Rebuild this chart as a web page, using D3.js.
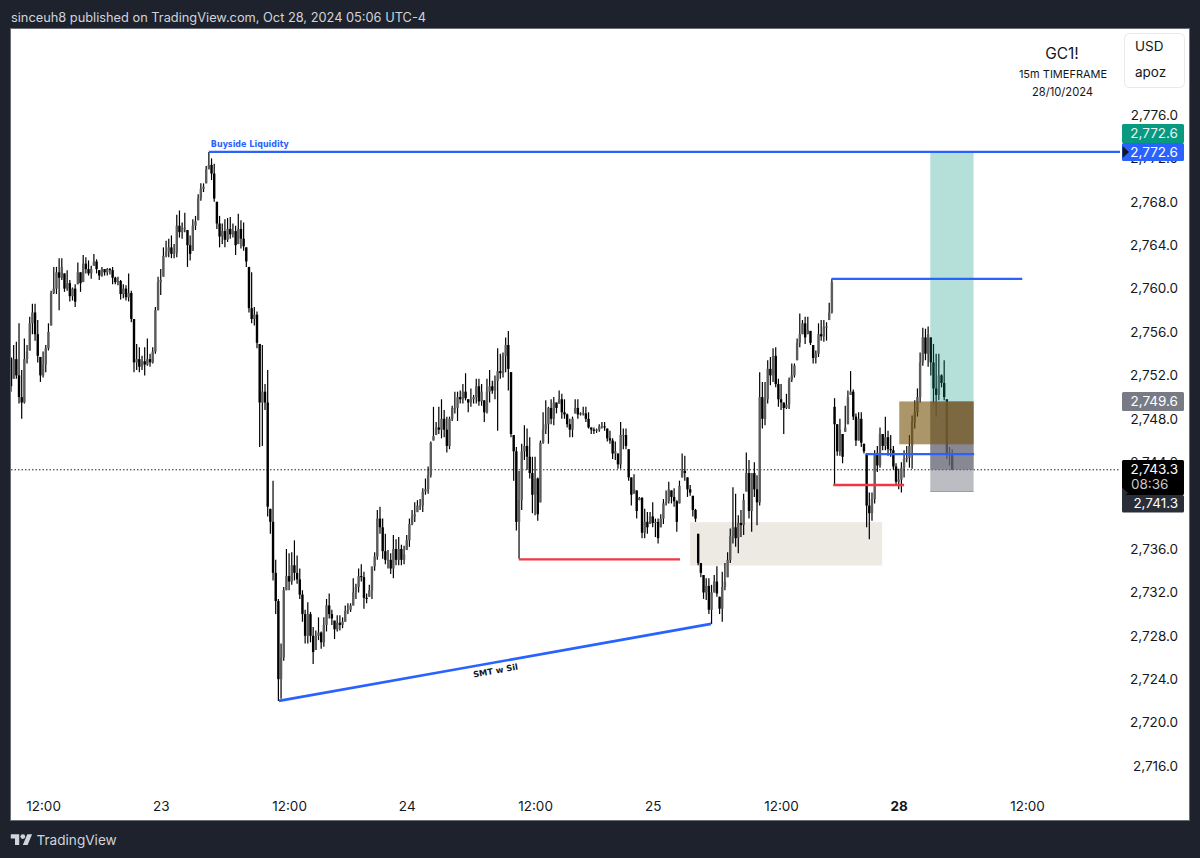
<!DOCTYPE html>
<html>
<head>
<meta charset="utf-8">
<script src="https://cdn.jsdelivr.net/npm/d3@7/dist/d3.min.js"></script>
<style>
  html, body { margin: 0; padding: 0; background: #1e222d; }
  svg { display: block; font-family: Inter, "Noto Sans", sans-serif; }
</style>
</head>
<body>
<svg id="chart" width="1200" height="858"></svg>
<script>
// GC1! 15-minute session data, one entry per bar, oldest first.
const highs = [
  2753.7,2754.8,2755.1,2756.8,2752.5,2755.4,2754.8,2757.4,2758.6,2758.6,
  2757.1,2753.7,2754.2,2754.8,2756.8,2759.8,2762.0,2762.0,2762.8,2762.8,
  2761.4,2761.7,2760.8,2760.1,2760.4,2762.4,2761.5,2763.1,2762.9,2762.6,
  2762.1,2763.2,2762.7,2761.7,2762.0,2761.8,2761.9,2761.9,2762.0,2761.1,
  2761.1,2760.8,2760.4,2760.3,2761.4,2759.8,2757.2,2754.9,2754.6,2753.8,
  2754.6,2755.4,2754.0,2754.6,2758.3,2761.1,2761.8,2763.8,2764.4,2764.6,
  2764.9,2764.1,2766.8,2767.2,2766.1,2767.0,2765.4,2764.9,2766.4,2766.7,
  2768.7,2769.7,2769.7,2771.3,2772.6,2772.0,2771.5,2768.0,2766.7,2766.0,
  2766.4,2766.5,2766.6,2766.0,2765.8,2766.9,2766.3,2766.1,2763.8,2762.0,
  2761.5,2758.3,2757.9,2754.9,2754.8,2751.2,2752.5,2739.7,2742.3,2735.0,
  2731.4,2727.3,2732.5,2736.0,2735.6,2735.7,2736.8,2735.4,2734.2,2732.2,
  2730.4,2731.1,2730.2,2728.8,2728.5,2729.7,2728.4,2729.7,2731.4,2731.9,
  2730.4,2729.4,2729.9,2729.9,2729.7,2730.8,2731.0,2731.0,2733.3,2732.8,
  2734.2,2734.6,2733.9,2731.9,2732.7,2733.4,2735.7,2739.6,2739.9,2738.8,
  2737.4,2735.9,2735.6,2737.3,2736.9,2737.1,2736.4,2736.3,2737.3,2738.8,
  2739.6,2740.3,2740.5,2740.6,2741.6,2742.5,2743.6,2745.9,2749.1,2747.7,
  2749.1,2749.8,2748.8,2748.2,2748.2,2749.2,2750.5,2750.5,2750.6,2751.2,
  2752.2,2749.8,2750.8,2750.2,2751.7,2751.7,2751.2,2749.7,2751.7,2752.5,
  2751.5,2752.0,2754.5,2754.0,2754.1,2755.5,2756.1,2752.3,2746.5,2745.4,
  2743.2,2745.7,2747.4,2747.1,2746.3,2744.5,2744.5,2742.6,2746.0,2748.6,
  2749.7,2749.1,2749.8,2750.0,2749.5,2750.6,2750.3,2749.8,2748.5,2748.0,
  2748.2,2749.8,2749.8,2748.6,2749.1,2749.1,2748.6,2747.2,2747.2,2747.1,
  2747.5,2747.7,2747.7,2747.1,2746.9,2746.2,2745.9,2744.8,2747.7,2747.1,
  2747.1,2745.2,2742.6,2742.9,2741.4,2740.8,2740.8,2739.7,2739.4,2739.4,
  2740.3,2738.8,2738.8,2739.2,2740.6,2741.4,2742.2,2741.4,2741.6,2740.5,
  2742.3,2744.8,2744.6,2742.6,2741.9,2740.9,2739.7,2737.4,2734.7,2733.6,
  2733.3,2733.3,2732.7,2733.6,2734.4,2731.6,2733.9,2734.7,2735.7,2737.9,
  2741.7,2741.1,2739.1,2739.6,2741.1,2744.9,2744.2,2741.7,2744.0,2742.8,
  2752.3,2751.4,2751.4,2753.4,2753.7,2754.5,2754.6,2751.7,2751.2,2749.5,
  2750.3,2751.8,2753.1,2753.1,2755.4,2757.7,2757.1,2757.4,2757.4,2756.1,
  2754.8,2754.3,2756.8,2757.1,2757.1,2756.9,2758.7,2760.9,2749.9,2747.5,
  2748.0,2746.6,2749.2,2750.6,2752.4,2750.7,2748.5,2748.6,2748.6,2745.7,
  2744.8,2741.2,2741.2,2745.1,2745.5,2747.2,2746.6,2748.2,2746.9,2746.5,
  2745.5,2743.9,2743.4,2744.0,2745.1,2745.5,2746.5,2748.3,2749.7,2750.8,
  2754.1,2756.4,2756.3,2756.5,2755.5,2754.9,2754.0,2754.0,2752.1,2753.4,
  2749.8,2745.4,2745.2
];

const lows = [
  2750.5,2751.7,2751.7,2749.4,2748.0,2749.4,2753.1,2754.3,2755.8,2755.2,
  2753.2,2751.4,2751.8,2752.3,2754.3,2756.6,2759.5,2759.5,2758.0,2760.8,
  2759.7,2759.8,2758.8,2758.9,2758.3,2760.4,2759.7,2760.6,2761.4,2761.2,
  2760.9,2762.1,2761.4,2760.8,2761.1,2761.2,2761.2,2761.3,2760.4,2760.4,
  2760.3,2759.0,2759.1,2758.9,2758.8,2756.9,2752.3,2752.5,2752.3,2752.5,
  2752.0,2752.9,2752.8,2753.1,2754.0,2758.0,2759.4,2761.1,2762.9,2762.9,
  2762.8,2762.8,2762.9,2764.7,2764.6,2765.2,2762.0,2762.6,2763.5,2765.4,
  2766.3,2768.1,2768.9,2769.7,2771.0,2770.0,2768.0,2765.5,2763.8,2764.1,
  2763.8,2764.3,2764.6,2764.7,2763.1,2764.1,2763.7,2763.5,2762.0,2757.8,
  2756.8,2756.6,2754.5,2745.4,2745.5,2748.8,2739.0,2737.4,2733.1,2730.0,
  2722.0,2722.2,2725.7,2732.2,2732.2,2732.7,2733.1,2732.8,2731.4,2729.3,
  2727.3,2727.3,2727.4,2725.4,2726.7,2727.6,2726.8,2727.0,2728.4,2729.6,
  2729.0,2727.7,2728.4,2728.5,2728.7,2729.3,2730.0,2730.2,2730.8,2731.4,
  2732.0,2733.0,2730.5,2731.0,2731.6,2731.4,2734.0,2735.0,2737.4,2735.1,
  2734.6,2734.2,2733.7,2733.3,2734.5,2734.5,2734.5,2734.6,2735.9,2736.2,
  2738.2,2738.5,2739.4,2739.6,2739.4,2741.0,2741.1,2742.6,2746.0,2746.5,
  2746.6,2746.2,2746.3,2744.9,2745.2,2747.8,2748.5,2747.8,2749.4,2749.4,
  2749.7,2748.6,2749.1,2749.4,2749.4,2749.2,2749.2,2747.7,2748.5,2749.5,
  2750.3,2749.8,2746.9,2751.7,2751.8,2752.3,2750.6,2746.3,2742.3,2737.7,
  2735.1,2739.6,2744.2,2743.3,2742.5,2739.3,2739.1,2738.6,2740.3,2745.7,
  2746.6,2745.7,2747.5,2747.4,2748.5,2749.4,2748.0,2748.0,2747.2,2746.3,
  2746.3,2748.5,2748.0,2748.3,2748.3,2747.7,2747.1,2746.6,2746.6,2746.7,
  2746.8,2747.1,2746.9,2745.9,2745.7,2744.3,2744.2,2743.4,2743.4,2745.2,
  2745.2,2742.3,2740.0,2741.1,2738.8,2740.5,2737.0,2737.0,2737.4,2738.3,
  2738.0,2737.1,2736.5,2738.0,2738.3,2740.0,2740.2,2740.2,2739.9,2737.6,
  2740.2,2742.6,2742.3,2740.8,2740.9,2739.0,2738.5,2734.5,2733.4,2731.4,
  2731.3,2730.0,2729.1,2732.0,2731.6,2730.0,2729.3,2732.2,2733.4,2734.7,
  2736.5,2736.2,2735.6,2737.1,2737.3,2741.3,2738.8,2737.6,2740.8,2738.2,
  2740.0,2747.1,2747.4,2749.4,2751.1,2751.4,2750.9,2749.1,2748.8,2746.6,
  2748.9,2748.9,2751.4,2751.8,2753.4,2754.6,2755.8,2754.9,2755.8,2754.8,
  2753.1,2753.1,2753.7,2755.2,2755.1,2755.2,2757.1,2757.7,2742.0,2744.6,
  2744.6,2743.9,2746.8,2747.5,2750.2,2747.9,2745.5,2746.0,2745.4,2744.8,
  2738.0,2736.9,2738.6,2740.2,2743.1,2743.5,2745.1,2745.1,2744.6,2744.5,
  2743.3,2741.9,2741.5,2741.2,2742.6,2744.0,2743.5,2743.4,2747.1,2748.2,
  2749.5,2752.9,2753.4,2752.8,2752.0,2749.4,2748.2,2749.7,2750.9,2749.7,
  2744.3,2743.7,2743.3
];

const closes = [
  2751.0,2753.5,2752.0,2750.0,2749.5,2753.5,2754.2,2756.8,2757.8,2755.8,
  2753.8,2752.0,2753.0,2754.5,2756.0,2759.6,2760.0,2761.5,2761.0,2762.0,
  2760.0,2760.5,2759.3,2760.0,2758.8,2761.5,2760.5,2762.3,2761.8,2761.4,
  2761.8,2762.5,2761.8,2761.2,2761.8,2761.5,2761.8,2761.7,2761.0,2760.6,
  2760.7,2759.5,2760.0,2759.2,2759.6,2757.2,2753.2,2753.5,2752.8,2753.3,
  2753.0,2753.5,2753.2,2754.2,2758.0,2760.6,2760.8,2763.0,2763.4,2763.8,
  2763.2,2763.3,2765.8,2765.2,2765.6,2765.6,2764.0,2763.2,2765.8,2766.2,
  2768.3,2769.2,2769.4,2771.0,2771.4,2770.6,2768.3,2766.0,2764.8,2765.3,
  2764.5,2765.5,2765.0,2765.3,2764.0,2765.5,2764.6,2763.9,2762.5,2758.2,
  2757.2,2757.6,2755.0,2749.5,2750.5,2749.5,2739.9,2738.5,2733.8,2731.2,
  2724.0,2726.0,2732.2,2733.5,2733.0,2734.5,2733.8,2733.2,2731.8,2730.0,
  2728.0,2730.0,2728.0,2726.5,2728.0,2728.3,2727.4,2729.0,2730.8,2730.0,
  2729.6,2728.6,2729.2,2729.0,2729.3,2730.3,2730.4,2730.8,2732.0,2732.5,
  2733.5,2733.4,2731.5,2731.4,2732.2,2734.4,2735.3,2738.8,2738.0,2735.8,
  2735.0,2735.0,2734.2,2736.0,2735.0,2736.0,2735.0,2735.5,2736.8,2738.3,
  2739.0,2739.2,2740.0,2740.0,2741.3,2741.5,2742.8,2745.8,2746.4,2747.2,
  2747.0,2748.0,2747.0,2745.5,2748.0,2749.0,2749.0,2750.0,2749.8,2750.5,
  2749.9,2749.5,2749.8,2750.0,2751.0,2749.6,2750.5,2748.6,2750.5,2751.0,
  2750.6,2751.5,2752.4,2752.2,2753.8,2754.8,2752.6,2746.6,2745.0,2738.5,
  2740.5,2745.0,2745.5,2744.5,2743.0,2741.0,2742.5,2739.2,2745.8,2747.0,
  2747.5,2749.0,2748.0,2749.5,2749.0,2749.8,2748.6,2748.4,2747.5,2747.0,
  2748.0,2749.0,2748.4,2748.5,2748.5,2748.0,2747.2,2747.0,2746.9,2747.0,
  2747.3,2747.3,2747.2,2746.2,2746.0,2744.8,2745.0,2743.8,2746.5,2746.5,
  2745.5,2742.6,2741.0,2741.5,2739.5,2740.7,2737.5,2738.5,2738.0,2739.0,
  2738.4,2738.5,2737.0,2738.8,2740.2,2740.4,2741.5,2740.8,2740.4,2738.5,
  2741.8,2743.2,2743.0,2741.5,2741.2,2739.6,2738.8,2734.7,2733.8,2732.0,
  2732.6,2730.4,2732.0,2733.0,2731.9,2730.5,2732.5,2733.0,2735.0,2737.2,
  2738.0,2737.0,2738.4,2738.2,2740.5,2743.0,2739.5,2743.0,2741.5,2740.3,
  2750.0,2748.0,2749.8,2752.6,2752.0,2753.8,2751.2,2749.8,2749.5,2749.0,
  2749.3,2751.6,2752.0,2752.9,2755.0,2755.8,2756.8,2755.5,2756.2,2755.0,
  2753.6,2754.0,2755.8,2755.6,2756.5,2756.5,2757.8,2760.6,2747.5,2745.0,
  2747.0,2744.5,2747.2,2750.0,2750.5,2748.2,2746.0,2748.0,2745.8,2745.0,
  2740.0,2739.3,2740.6,2744.8,2743.7,2746.6,2745.5,2746.3,2745.2,2745.1,
  2743.6,2742.2,2742.4,2743.5,2744.3,2744.4,2745.5,2747.7,2748.6,2750.0,
  2753.2,2755.5,2754.0,2755.8,2753.2,2750.8,2750.2,2752.0,2751.3,2750.0,
  2744.7,2744.8,2743.3
];

// Axis labelling: bar number of each time label, and the printed price levels.
const timeTickBars = [12, 56, 104, 148, 196, 240, 288, 332, 380];
const timeTickLabels = ["12:00", "23", "12:00", "24", "12:00", "25", "12:00", "28", "12:00"];
const priceTicks = [2776, 2772, 2768, 2764, 2760, 2756, 2752, 2748, 2744, 2736, 2732, 2728, 2724, 2720, 2716];

// Drawing-tool levels, each as [first bar, last bar, price].
const blueLevels = [[74.0, 415.5, 2772.6], [306.9, 378.2, 2760.9], [319.8, 360.2, 2744.75]];
const redLevels = [[189.9, 250.2, 2735.05], [307.5, 334, 2741.9]];
const smtLine = [[100.2, 2722.0], [261.8, 2729.1]];
const demandZone = [254, 325.8, 2738.47, 2734.48];
const fvgZone = [332.2, 360, 2749.6, 2745.65];
const positionBars = [343.8, 360];
const entryPrice = 2749.6, targetPrice = 2772.6, stopPrice = 2741.3, lastPrice = 2743.3;

const paneLeft = 11, paneTop = 29, paneRight = 1189, paneBottom = 820, axisX = 1120;

const x = d3.scaleLinear().domain([0, 352]).range([11, 952.2]);
const y = d3.scaleLinear().domain([2776, 2716]).range([115, 766]);

const svg = d3.select("#chart");
const fmt = d3.format(",.1f");

const defs = svg.append("defs");
defs.append("clipPath").attr("id", "plot")
  .append("rect").attr("x", paneLeft).attr("y", paneTop)
  .attr("width", axisX - paneLeft).attr("height", paneBottom - paneTop);

// Page and chart pane.
svg.append("rect").attr("width", 1200).attr("height", 858).attr("fill", "#1e222d");
svg.append("rect").attr("x", paneLeft - 0.5).attr("y", paneTop - 0.5)
  .attr("width", paneRight - paneLeft + 1).attr("height", paneBottom - paneTop + 1)
  .attr("fill", "#fff").attr("stroke", "#6a6d78");

svg.append("text").attr("x", 11).attr("y", 21.5)
  .attr("fill", "#d1d4dc").attr("font-size", 12.8)
  .text("sinceuh8 published on TradingView.com, Oct 28, 2024 05:06 UTC-4");

const plot = svg.append("g").attr("clip-path", "url(#plot)");

// Consolidation zone sits behind the candles.
plot.append("rect")
  .attr("x", x(demandZone[0])).attr("width", x(demandZone[1]) - x(demandZone[0]))
  .attr("y", y(demandZone[2])).attr("height", y(demandZone[3]) - y(demandZone[2]))
  .attr("fill", "#ede9e3");

// Last-price dotted guide.
plot.append("line")
  .attr("x1", paneLeft).attr("x2", axisX)
  .attr("y1", y(lastPrice)).attr("y2", y(lastPrice))
  .attr("stroke", "#222").attr("stroke-width", 1).attr("stroke-dasharray", "1.5 2");

// Candles: opens continue from the previous close, except at the weekend gap.
const bars = highs.map((h, i) => {
  const l = lows[i], c = closes[i];
  const prev = i === 308 ? 2749.1 : (i ? closes[i - 1] : 2753.6);
  const o = Math.min(h, Math.max(l, prev));
  return { i, h, l, o, c };
});

const candle = plot.append("g").selectAll("g").data(bars).join("g");
candle.append("line")
  .attr("x1", d => x(d.i)).attr("x2", d => x(d.i))
  .attr("y1", d => y(d.h)).attr("y2", d => y(d.l))
  .attr("stroke", "#000").attr("stroke-width", 1.2);
candle.append("rect")
  .attr("x", d => x(d.i) - 1.2).attr("width", 2.4)
  .attr("y", d => y(Math.max(d.o, d.c)))
  .attr("height", d => Math.max(1, Math.abs(y(d.o) - y(d.c))))
  .attr("fill", d => d.c >= d.o ? "#5c5c5c" : "#000");

// Long position: target, stop and the open-loss band.
const posX = x(positionBars[0]), posW = x(positionBars[1]) - posX;
plot.append("rect").attr("x", posX).attr("width", posW)
  .attr("y", y(targetPrice)).attr("height", y(entryPrice) - y(targetPrice))
  .attr("fill", "rgba(8,153,129,0.3)");
plot.append("rect").attr("x", posX).attr("width", posW)
  .attr("y", y(entryPrice)).attr("height", y(stopPrice) - y(entryPrice))
  .attr("fill", "rgba(120,123,134,0.5)");
plot.append("rect").attr("x", posX).attr("width", posW)
  .attr("y", y(entryPrice)).attr("height", y(lastPrice) - y(entryPrice))
  .attr("fill", "rgba(100,100,115,0.6)");
plot.append("line").attr("x1", posX).attr("x2", posX + posW)
  .attr("y1", y(stopPrice)).attr("y2", y(stopPrice))
  .attr("stroke", "#9a9ba3").attr("stroke-width", 1);

// Imbalance box laid over the position.
plot.append("rect")
  .attr("x", x(fvgZone[0])).attr("width", x(fvgZone[1]) - x(fvgZone[0]))
  .attr("y", y(fvgZone[2])).attr("height", y(fvgZone[3]) - y(fvgZone[2]))
  .attr("fill", "rgba(120,85,15,0.62)");

// Horizontal levels and the divergence line.
plot.selectAll("line.blue").data(blueLevels).join("line").attr("class", "blue")
  .attr("x1", d => x(d[0])).attr("x2", d => x(d[1]))
  .attr("y1", d => y(d[2])).attr("y2", d => y(d[2]))
  .attr("stroke", "#2962ff").attr("stroke-width", 2.3);
plot.selectAll("line.red").data(redLevels).join("line").attr("class", "red")
  .attr("x1", d => x(d[0])).attr("x2", d => x(d[1]))
  .attr("y1", d => y(d[2])).attr("y2", d => y(d[2]))
  .attr("stroke", "#f23645").attr("stroke-width", 2.3);
plot.append("line")
  .attr("x1", x(smtLine[0][0])).attr("y1", y(smtLine[0][1]))
  .attr("x2", x(smtLine[1][0])).attr("y2", y(smtLine[1][1]))
  .attr("stroke", "#2962ff").attr("stroke-width", 2.6);

plot.append("text").attr("x", x(74) + 2).attr("y", y(2772.6) - 4.5)
  .attr("fill", "#2962ff").attr("font-size", 8).attr("font-weight", 700)
  .attr("font-family", "DejaVu Sans").text("Buyside Liquidity");
plot.append("text")
  .attr("transform", "translate(496,673.5) rotate(-10)")
  .attr("text-anchor", "middle").attr("fill", "#131722")
  .attr("font-size", 8.4).attr("font-weight", 700)
  .attr("font-family", "DejaVu Sans").text("SMT w Sil");

// Price scale.
const priceAxis = d3.axisRight(y).tickValues(priceTicks).tickSize(0).tickPadding(0).tickFormat(fmt);
const priceG = svg.append("g").attr("transform", "translate(1178,0)").call(priceAxis);
priceG.select(".domain").remove();
priceG.selectAll("text").attr("x", 0).attr("text-anchor", "end")
  .attr("fill", "#131722").attr("font-size", 13.5).attr("font-family", "Inter");

// Time scale.
const timeAxis = d3.axisBottom(x).tickValues(timeTickBars).tickSize(0).tickPadding(0)
  .tickFormat(d => timeTickLabels[timeTickBars.indexOf(d)]);
const timeG = svg.append("g").attr("transform", "translate(0,801)").call(timeAxis);
timeG.select(".domain").remove();
timeG.selectAll("text").attr("y", 0).attr("dy", "0.71em")
  .attr("fill", "#131722").attr("font-size", 13.5).attr("font-family", "Inter")
  .attr("font-weight", d => d === 332 ? 700 : 400);

// Price tags on the scale.
function tag(price, top, h, fill, color) {
  svg.append("rect").attr("x", 1122).attr("y", top).attr("width", 62).attr("height", h)
    .attr("rx", 1.5).attr("fill", fill);
  svg.append("text").attr("x", 1178).attr("y", top + h / 2 + 4.7).attr("text-anchor", "end")
    .attr("fill", color).attr("font-size", 13.5).text(fmt(price));
}
tag(targetPrice, 124, 19, "#089981", "#e6f5f2");
tag(targetPrice, 143, 18, "#2962ff", "#fff");
svg.append("path").attr("d", "M1122.5 146 L1129 152 L1122.5 158 Z").attr("fill", "#131722");

tag(entryPrice, 392, 19, "#787b86", "#fff");

svg.append("rect").attr("x", 1122).attr("y", 460).attr("width", 62).attr("height", 35).attr("rx", 1.5).attr("fill", "#000");
svg.append("text").attr("x", 1178).attr("y", y(lastPrice) + 4.2).attr("text-anchor", "end").attr("fill", "#fff").attr("font-size", 13.5).text(fmt(lastPrice));
svg.append("text").attr("x", 1131).attr("y", 489).attr("fill", "#c8c8c8").attr("font-size", 13.5).text("08:36");
tag(stopPrice, 495, 17.5, "#2a2e39", "#fff");
svg.append("path").attr("d", "M1122 487.5 L1128 493 L1122 498 Z").attr("fill", "#2a2e39");

// Symbol block and currency box.
svg.append("text").attr("x", 1062).attr("y", 58.5).attr("text-anchor", "middle")
  .attr("fill", "#131722").attr("font-size", 15.5).text("GC1!");
svg.append("text").attr("x", 1063).attr("y", 78).attr("text-anchor", "middle")
  .attr("fill", "#131722").attr("font-size", 11).text("15m TIMEFRAME");
svg.append("text").attr("x", 1062.5).attr("y", 96).attr("text-anchor", "middle")
  .attr("fill", "#131722").attr("font-size", 11.2).text("28/10/2024");
svg.append("rect").attr("x", 1124.5).attr("y", 33.5).attr("width", 60).attr("height", 54)
  .attr("rx", 5).attr("fill", "#fff").attr("stroke", "#e8e9ed");
svg.append("text").attr("x", 1135).attr("y", 51).attr("fill", "#131722").attr("font-size", 13.5).text("USD");
svg.append("text").attr("x", 1135).attr("y", 77).attr("fill", "#131722").attr("font-size", 13.5).text("apoz");

// Footer brand mark.
const logo = svg.append("g").attr("transform", "translate(10.8,831.8) scale(0.6)").attr("fill", "#d1d4dc");
logo.append("path").attr("d", "M14 22H7V11H0V4h14v18zM28 22h-8l7.5-18h8L28 22z");
logo.append("circle").attr("cx", 20).attr("cy", 8).attr("r", 4);
svg.append("text").attr("x", 36.5).attr("y", 845).attr("fill", "#d1d4dc").attr("font-size", 13.6).text("TradingView");
</script>
</body>
</html>
